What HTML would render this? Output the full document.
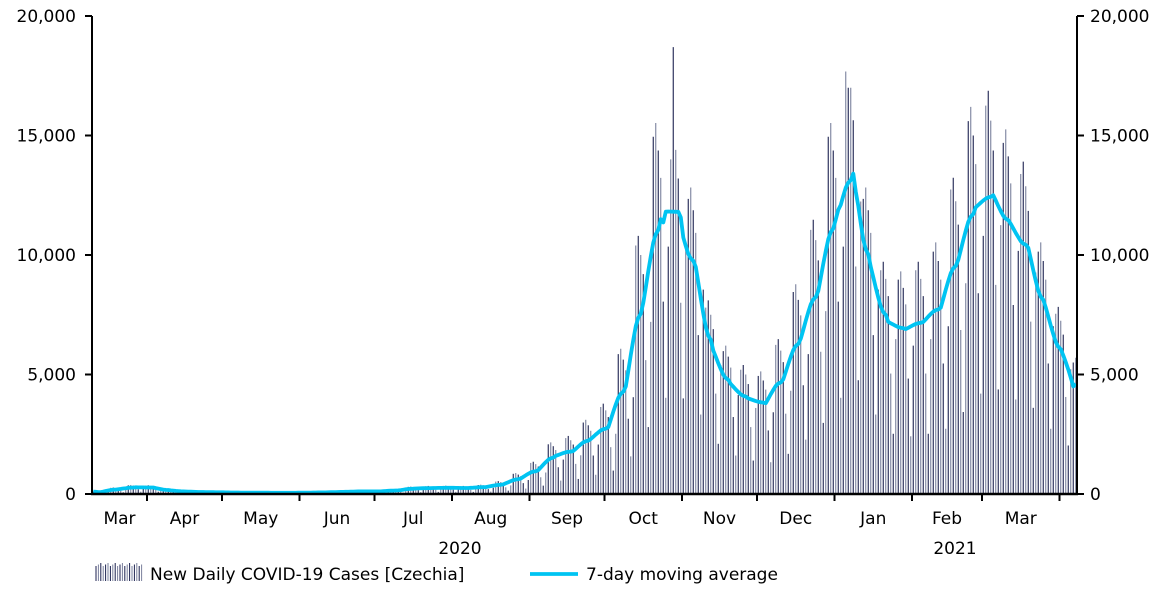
<!DOCTYPE html>
<html><head><meta charset="utf-8"><style>
html,body{margin:0;padding:0;background:#fff;}
svg{display:block;font-family:"DejaVu Sans","Liberation Sans",sans-serif;}
</style></head><body>
<svg id="chart" width="1167" height="591" viewBox="0 0 1167 591" xmlns="http://www.w3.org/2000/svg">
<g id="bars"></g>
<path id="ma" fill="none" stroke="#00c4f2" stroke-width="3.8" stroke-linejoin="round"/>
<g id="axes"></g>
<text x="460" y="554" font-size="17" text-anchor="middle">2020</text>
<text x="955" y="554" font-size="17" text-anchor="middle">2021</text>
<g>
<g id="legbars"></g>
<text x="150" y="580" font-size="17">New Daily COVID-19 Cases [Czechia]</text>
</g>
<g>
<line x1="530" y1="574" x2="578" y2="574" stroke="#00c4f2" stroke-width="3.8"/>
<text x="586" y="580" font-size="17">7-day moving average</text>
</g>
</svg>
<script>
const monthLabels=["Mar","Apr","May","Jun","Jul","Aug","Sep","Oct","Nov","Dec","Jan","Feb","Mar"];
const monthStartIdx=[22,52,83,113,144,175,205,236,266,297,328,356,387];
const yTicks=[0,5000,10000,15000,20000];
const yTickLabels=["0","5,000","10,000","15,000","20,000"];
const dailyCases=[
104,108,100,92,56,28,72,
260,270,250,230,140,70,180,
364,378,350,322,196,98,252,
351,365,338,311,189,95,243,
195,203,188,173,105,53,135,
130,135,125,115,70,35,90,
104,108,100,92,56,28,72,
91,95,88,81,49,25,63,
78,81,75,69,42,21,54,
78,81,75,69,42,21,54,
65,68,63,58,35,18,45,
65,68,63,58,35,18,45,
78,81,75,69,42,21,54,
91,95,88,81,49,25,63,
117,122,113,104,63,32,81,
143,149,138,127,77,39,99,
143,149,138,127,77,39,99,
195,203,188,173,105,53,135,
299,311,288,265,161,81,207,
325,338,313,288,175,88,225,
338,351,325,299,182,91,234,
325,338,313,288,175,88,225,
377,392,363,334,203,102,261,
520,540,500,460,280,140,360,
845,878,813,748,455,228,585,
1300,1350,1250,1150,700,350,900,
2080,2160,2000,1840,1120,560,1440,
2340,2430,2250,2070,1260,630,1620,
2990,3105,2875,2645,1610,805,2070,
3640,3780,3500,3220,1960,980,2520,
5850,6075,5625,5175,3150,1575,4050,
10400,10800,10000,9200,5600,2800,7200,
14950,15525,14375,13225,8050,4025,10350,
14000,18700,14400,13200,8000,4000,10350,
12350,12825,11875,10925,6650,3325,8550,
7800,8100,7500,6900,4200,2100,5400,
5980,6210,5750,5290,3220,1610,4140,
5200,5400,5000,4600,2800,1400,3600,
4940,5130,4750,4370,2660,1330,3420,
6240,6480,6000,5520,3360,1680,4320,
8450,8775,8125,7475,4550,2275,5850,
11050,11475,10625,9775,5950,2975,7650,
14950,15525,14375,13225,8050,4025,10350,
17680,17000,17000,15640,9520,4760,12240,
12350,12825,11875,10925,6650,3325,8550,
9360,9720,9000,8280,5040,2520,6480,
8970,9315,8625,7935,4830,2415,6210,
9360,9720,9000,8280,5040,2520,6480,
10140,10530,9750,8970,5460,2730,7020,
12740,13230,12250,11270,6860,3430,8820,
15600,16200,15000,13800,8400,4200,10800,
16250,16875,15625,14375,8750,4375,11250,
14690,15255,14125,12995,7910,3955,10170,
13390,13905,12875,11845,7210,3605,9270,
10140,10530,9750,8970,5460,2730,7020,
7540,7830,7250,6670,4060,2030,5220,
5500,5700
];
const NS="http://www.w3.org/2000/svg";
const X0=92,X1=1077,Y0=494,Y1=16,YMAX=20000;
const N=dailyCases.length;
const step=(X1-X0)/N;
function xScale(i){return X0+(i+0.5)*step;}
function xEdge(i){return X0+i*step;}
function yScale(v){return Y0-(v/YMAX)*(Y0-Y1);}
function mk(tag,attrs,parent){const e=document.createElementNS(NS,tag);for(const k in attrs)e.setAttribute(k,attrs[k]);parent.appendChild(e);return e;}
const bars=document.getElementById('bars');
dailyCases.forEach((v,i)=>{
  const l=mk('line',{x1:xScale(i),x2:xScale(i),y1:Y0,y2:yScale(v),stroke:(i%2?'#7a809c':'#1c2250'),'stroke-width':1.1},bars);
  
  
});
let d='';
for(let i=0;i<N;i++){
  let s=0,c=0;
  for(let j=i-3;j<=i+3;j++){if(j>=0&&j<N){s+=dailyCases[j];c++;}}
  d+=(i?'L':'M')+xScale(i).toFixed(1)+' '+yScale(s/c).toFixed(1);
}
document.getElementById('ma').setAttribute('d',d);
const ax=document.getElementById('axes');
mk('line',{x1:X0,x2:X0,y1:Y1,y2:Y0,stroke:'#000','stroke-width':2},ax);
mk('line',{x1:X1,x2:X1,y1:Y1,y2:Y0,stroke:'#000','stroke-width':2},ax);
mk('line',{x1:X0-1,x2:X1+1,y1:Y0,y2:Y0,stroke:'#000','stroke-width':2.5},ax);
yTicks.forEach((t,k)=>{
  const y=yScale(t);
  mk('line',{x1:X0-7,x2:X0,y1:y,y2:y,stroke:'#000','stroke-width':2},ax);
  mk('line',{x1:X1,x2:X1+7,y1:y,y2:y,stroke:'#000','stroke-width':2},ax);
  const a=mk('text',{x:76,y:y+6,'font-size':17,'text-anchor':'end'},ax);
  a.textContent=yTickLabels[k];
  
  
  const b=mk('text',{x:1090,y:y+6,'font-size':17,'text-anchor':'start'},ax);
  b.textContent=yTickLabels[k];
  
  
});
let prev=X0;
monthStartIdx.forEach((idx,k)=>{
  const x=Math.min(xEdge(idx),X1);
  if(idx<N) mk('line',{x1:x,x2:x,y1:Y0,y2:Y0+7,stroke:'#000','stroke-width':2},ax);
  const t=mk('text',{x:(prev+x)/2,y:524,'font-size':17,'text-anchor':'middle'},ax);
  t.textContent=monthLabels[k];
  
  
  prev=x;
});
const lb=document.getElementById('legbars');
for(let k=0;k<20;k++){
  const l=mk('line',{x1:96+k*2.4,x2:96+k*2.4,y1:581,y2:566-(k%3)*1.5,stroke:(k%2?'#7a809c':'#1c2250'),'stroke-width':1},lb);
  
  
}
</script>
</body></html>
